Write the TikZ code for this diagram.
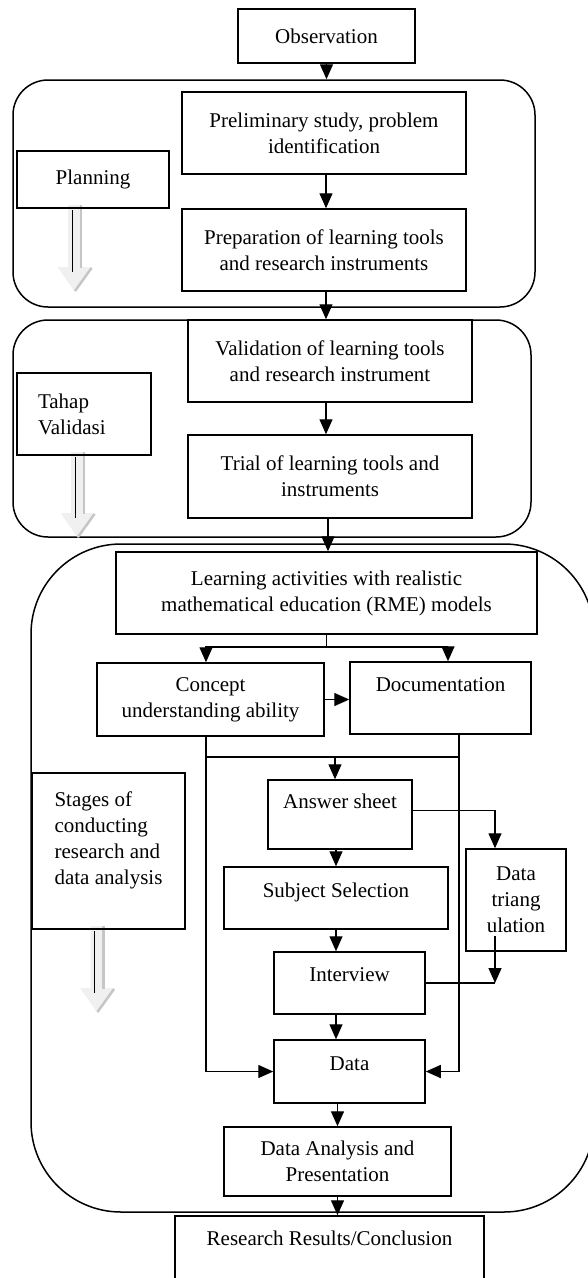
\documentclass[tikz,border=0pt]{standalone}
\usepackage{fontspec}
\setmainfont{Liberation Serif}
\usetikzlibrary{arrows.meta}

\begin{document}
\begin{tikzpicture}[
  x=1pt, y=-1pt,
  box/.style={rectangle, draw, line width=1.5pt, align=center, inner sep=2pt,
              font=\fontsize{21}{26}\selectfont},
  grp/.style={rectangle, draw, line width=1.5pt, rounded corners=35pt},
  arr/.style={-{Triangle[length=15pt,width=13pt]}, line width=1.4pt},
  ln/.style={line width=1.4pt}
]
\useasboundingbox (0,0) rectangle (588,1278);
\clip (0,0) rectangle (588,1278);

% stage frames
\node[grp, minimum width=522pt, minimum height=227pt] (gplan) at (274,193.5) {};
\node[grp, minimum width=518pt, minimum height=217pt] (gvalid) at (272,428.5) {};
\node[grp, rounded corners=90pt, minimum width=563pt, minimum height=668pt] (gdo) at (312.5,878) {};

% hollow grey arrows of the stages
\foreach \cx/\ytop/\ytip in {75/205/292, 78/452/538, 97.5/926/1013} {
  \fill[gray!12] ({\cx-7},\ytop) -- ({\cx+7},\ytop) -- ({\cx+7},{\ytip-25})
    -- ({\cx+17.5},{\ytip-25}) -- (\cx,\ytip) -- ({\cx-17.5},{\ytip-25})
    -- ({\cx-7},{\ytip-25}) -- cycle;
  \draw[gray!45, line width=2.5pt] ({\cx+6},\ytop) -- ({\cx+6},{\ytip-24});
  \draw[gray!45, line width=2.5pt] ({\cx+16.5},{\ytip-24}) -- (\cx,{\ytip-1});
  \draw[line width=0.7pt] ({\cx-3},{\ytop+5}) -- ({\cx-3},{\ytip-20});
}

% boxes
\node[box, minimum width=177pt, minimum height=54pt] (obs) at (326.5,36) {Observation};
\node[box, minimum width=284pt, minimum height=82pt] (prelim) at (324,133)
      {Preliminary study, problem\\identification};
\node[box, minimum width=152pt, minimum height=57pt] (lplan) at (93,179.5) {Planning};
\node[box, minimum width=284pt, minimum height=82pt] (prep) at (324,250)
      {Preparation of learning tools\\and research instruments};
\node[box, minimum width=284pt, minimum height=82pt] (valid) at (330,361)
      {Validation of learning tools\\and research instrument};
\node[box, minimum width=134pt, minimum height=82pt, text width=92pt, align=left] (lvalid) at (84,414)
      {Tahap\\Validasi};
\node[box, minimum width=284pt, minimum height=83pt] (trial) at (330,476.5)
      {Trial of learning tools and\\instruments};
\node[box, minimum width=421pt, minimum height=82pt] (learn) at (326.5,593)
      {Learning activities with realistic\\mathematical education (RME) models};
\node[box, minimum width=227pt, minimum height=73pt] (concept) at (210.5,699.5)
      {Concept\\understanding ability};
\node[box, minimum width=181pt, minimum height=72pt] (doc) at (440.5,698) {Documentation\\~};
\node[box, minimum width=153pt, minimum height=156pt, align=left] (lstage) at (108.5,851)
      {Stages of\\conducting\\research and\\data analysis\\~};
\node[box, minimum width=144pt, minimum height=69pt] (ans) at (340,814.5) {Answer sheet\\~};
\node[box, minimum width=224pt, minimum height=62pt] (subj) at (336,898) {Subject Selection\\[-10pt]~};
\node[box, minimum width=100pt, minimum height=102pt] (tri) at (516,900) {Data\\triang\\ulation};
\node[box, minimum width=151pt, minimum height=62pt] (intv) at (349.5,983) {Interview\\[-10pt]~};
\node[box, minimum width=151pt, minimum height=63pt] (data) at (349.5,1071.5) {Data\\[-10pt]~};
\node[box, minimum width=227pt, minimum height=69pt] (anl) at (337.5,1161.5)
      {Data Analysis and\\Presentation};
\node[box, minimum width=309pt, minimum height=70pt] (res) at (329.5,1251)
      {Research Results/Conclusion\\~};

% helper points
\coordinate (fork) at (326.5,647);
\coordinate (bar) at (335,757);
\coordinate (cdown) at ([xshift=-4.5pt]concept.south);
\coordinate (ddown) at ([xshift=18.5pt]doc.south);
\coordinate (tdown) at ([xshift=-21pt]tri.north);
\coordinate (tup) at ([xshift=-21pt,yshift=16pt]tri.south);

% connectors
\draw[arr] (obs.south) -- (obs.south |- gplan.north);
\draw[arr] ([xshift=2pt]prelim.south) -- ([xshift=2pt]prep.north);
\draw[arr] ([xshift=2pt]prep.south) -- ([xshift=2pt]prep.south |- valid.north);
\draw[arr] ([xshift=-4pt]valid.south) -- ([xshift=-4pt]trial.north);
\draw[arr] ([xshift=-2pt]trial.south) -- ([xshift=-2pt]trial.south |- learn.north);
\draw[ln] (learn.south) -- (fork);
\draw[arr] (fork) -| ([xshift=-4.5pt]concept.north);
\draw[arr] (fork) -| ([xshift=7.5pt]doc.north);
\draw[arr] (concept.east) -- (concept.east -| doc.west);
\draw[arr] (cdown) |- (data.west);
\draw[arr] (ddown) |- (data.east);
\draw[ln] (cdown |- bar) -- (ddown |- bar);
\draw[arr] (bar) -- (bar |- ans.north);
\draw[arr] ([yshift=4pt]ans.east) -| (tdown);
\draw[arr] (subj.north |- ans.south) -- (subj.north);
\draw[arr] (subj.south) -- (subj.south |- intv.north);
\draw[arr] (subj.south |- intv.south) -- (subj.south |- data.north);
\draw[arr] (tup) -- (tup |- intv.east);
\draw[ln] (intv.east) -- (tup |- intv.east);
\draw[arr] (anl.north |- data.south) -- (anl.north);
\draw[arr] (anl.south) -- (anl.south |- res.north);
\end{tikzpicture}
\end{document}
